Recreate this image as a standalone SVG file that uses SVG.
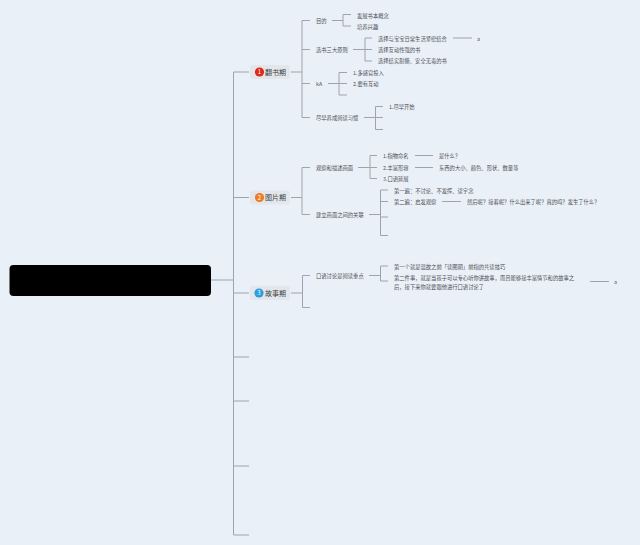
<svg xmlns="http://www.w3.org/2000/svg" width="640" height="545" viewBox="0 0 640 545">
<style>
.c{fill:none;stroke:#9fa4ab;stroke-width:1}
text{font-family:"Noto Sans CJK SC","Liberation Sans",sans-serif;font-size:5.3px;fill:#4a4d52}
.b{font-size:7px;fill:#3c3f44}
.n{font-size:6px;fill:#fff;text-anchor:middle}
.bg{fill:#e3e6ea}
</style>
<rect width="640" height="545" fill="#eaf0f8"/>
<g id="connectors" class="c">
<path d="M211 280H233.5M233.5 535V72H249M233.5 197.5H249M233.5 293H249M233.5 357H249M233.5 401H249M233.5 466H249M233.5 535H249"/>
<path d="M291 72H302M310 20.5H302V117.5H310M302 49.5H310M302 83.5H310"/>
<path d="M332 20.5H343M351 14.5H343V26H351"/>
<path d="M353 49.5H372M372 38H365V61H372M453 38H472"/>
<path d="M328 83.5H347M347 72.5H339V95H347"/>
<path d="M364 117.5H383M383 106.5H375.5V129.5H383"/>
<path d="M291 197.5H302M310 167.5H302V214.5H310"/>
<path d="M358 167.5H377M377 155.5H370V178.5H377M415 155.5H433M415 167.5H433"/>
<path d="M369 214.5H380.5M388 190H380.5V235.5H388M380.5 201.5H388M380.5 217H388M442 201.5H461"/>
<path d="M291 293H302M310 275.5H302.5V307.5H310"/>
<path d="M369 275.5H380.5M388 266H380.5V281H388M590 281.5H609"/>
</g>
<g id="root"><rect x="9.5" y="265" width="201.5" height="31" rx="4" fill="#000"/></g>
<g id="n1"><rect class="bg" x="250" y="65" width="40" height="14" rx="3"/><circle cx="259.5" cy="72" r="4.6" fill="#e0281c"/><text class="n" x="259.5" y="74.2">1</text><text class="b" x="265" y="74.7">翻书期</text></g>
<g id="n1a"><text x="316" y="23">目的</text></g>
<g id="n1a1"><text x="357" y="17.5">发展书本概念</text></g>
<g id="n1a2"><text x="357" y="29">培养兴趣</text></g>
<g id="n1b"><text x="316" y="51.5">选书三大原则</text></g>
<g id="n1b1"><text x="378" y="40.5">选择与宝宝日常生活紧密结合</text></g>
<g id="n1b1a"><text x="477" y="40.5">a</text></g>
<g id="n1b2"><text x="378" y="51.5">选择互动性强的书</text></g>
<g id="n1b3"><text x="378" y="63">选择结实耐撕、安全无毒的书</text></g>
<g id="n1c"><text x="316" y="86">kA</text></g>
<g id="n1c1"><text x="353" y="74.5">1.多感官投入</text></g>
<g id="n1c2"><text x="353" y="86">2.要有互动</text></g>
<g id="n1d"><text x="316" y="120">尽早养成阅读习惯</text></g>
<g id="n1d1"><text x="389" y="109">1.尽早开始</text></g>
<g id="n2"><rect class="bg" x="250" y="190.500" width="40" height="14" rx="3"/><circle cx="259.500" cy="197.500" r="4.600" fill="#ee7d22"/><text class="n" x="259.500" y="199.700">2</text><text class="b" x="265" y="200.200">图片期</text></g>
<g id="n2a"><text x="316" y="170">观察和描述画面</text></g>
<g id="n2a1"><text x="383" y="158">1.指物命名</text></g>
<g id="n2a1a"><text x="439" y="158">是什么？</text></g>
<g id="n2a2"><text x="383" y="169.500">2.丰富形容</text></g>
<g id="n2a2a"><text x="439" y="170">东西的大小、颜色、形状、数量等</text></g>
<g id="n2a3"><text x="383" y="181">3.口语延展</text></g>
<g id="n2b"><text x="316" y="216.500">建立画面之间的关联</text></g>
<g id="n2b1"><text x="394" y="192.500">第一遍：不讨论、不发挥、读字念</text></g>
<g id="n2b2"><text x="394" y="203.500">第二遍：启发观察</text></g>
<g id="n2b2a"><text x="467" y="203.500">然后呢？接着呢？什么出来了呢？真的吗？发生了什么？</text></g>
<g id="n3"><rect class="bg" x="250" y="286" width="40" height="14" rx="3"/><circle cx="259" cy="293" r="4.600" fill="#2a9fe0"/><text class="n" x="259" y="295.200">3</text><text class="b" x="265" y="295.700">故事期</text></g>
<g id="n3a"><text x="316" y="278">口语讨论是阅读重点</text></g>
<g id="n3a1"><text x="394" y="268.500">第一个就是温故之前「读图期」前指的共读技巧</text></g>
<g id="n3a2"><text x="394" y="279.500">第二件事，就是当孩子可以专心听你讲故事，而且能够接丰富情节和的故事之</text><text x="394" y="288.500">后，接下来你就要跟他进行口语讨论了</text></g>
<g id="n3a2a"><text x="614" y="284">a</text></g>
</svg>
